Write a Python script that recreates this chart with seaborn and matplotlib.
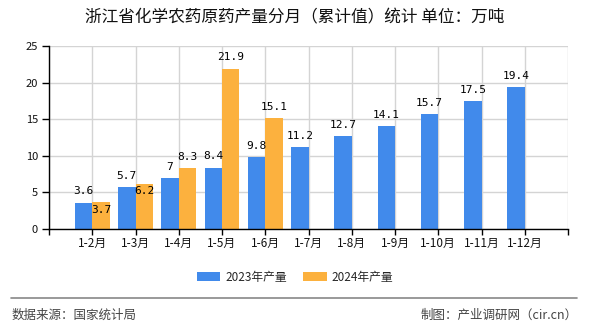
import numpy as np
import pandas as pd
import matplotlib
matplotlib.use("Agg")
import matplotlib.pyplot as plt
from matplotlib.lines import Line2D
from matplotlib.patches import Patch
import seaborn as sns

# ---------------- data ----------------
categories = ["1-2月", "1-3月", "1-4月", "1-5月", "1-6月", "1-7月",
              "1-8月", "1-9月", "1-10月", "1-11月", "1-12月"]
values_2023 = [3.6, 5.7, 7, 8.4, 9.8, 11.2, 12.7, 14.1, 15.7, 17.5, 19.4]
values_2024 = [3.7, 6.2, 8.3, 21.9, 15.1, np.nan, np.nan, np.nan, np.nan, np.nan, np.nan]
series_names = ["2023年产量", "2024年产量"]
y_ticks = [0, 5, 10, 15, 20, 25]
title = "浙江省化学农药原药产量分月（累计值）统计 单位：万吨"
source_text = "数据来源：国家统计局"
credit_text = "制图：产业调研网（cir.cn）"

colors = ["#418AEB", "#FCB13E"]

df = pd.DataFrame({
    "month": categories * 2,
    "value": values_2023 + values_2024,
    "series": [series_names[0]] * len(categories) + [series_names[1]] * len(categories),
})

sns.set_theme(style="white")
plt.rcParams["font.family"] = ["Noto Sans CJK SC", "DejaVu Sans"]

W, H = 590, 330
fig = plt.figure(figsize=(W / 100, H / 100), dpi=100)
ax = fig.add_axes([49 / W, 1 - 229 / H, (568 - 49) / W, (229 - 46) / H])

sns.barplot(data=df, x="month", y="value", hue="series", order=categories,
            hue_order=series_names, palette=colors, saturation=1, width=0.8,
            dodge=True, linewidth=0, legend=False, ax=ax, errorbar=None)

# value labels
series_vals = [values_2023, values_2024]
for si, cont in enumerate(ax.containers):
    vals = [v for v in series_vals[si] if not np.isnan(v)]
    idxs = [i for i, v in enumerate(series_vals[si]) if not np.isnan(v)]
    for bar, v, ci in zip(cont.patches, vals, idxs):
        xc = bar.get_x() + bar.get_width() / 2
        txt = f"{v:g}"
        inside = (si == 1 and abs(v - values_2023[ci]) < 1.0)
        if inside:
            ax.annotate(txt, (xc, v), xytext=(0, -2), textcoords="offset points",
                        ha="center", va="top", fontsize=8,
                        family=["DejaVu Sans Mono"], color="black")
        else:
            ax.annotate(txt, (xc, v), xytext=(0, 4.5), textcoords="offset points",
                        ha="center", va="bottom", fontsize=8,
                        family=["DejaVu Sans Mono"], color="black")

ax.set_xlim(-1, len(categories))
ax.set_ylim(0, 25)
ax.set_xticks(range(-1, len(categories) + 1))
ax.set_xticklabels([""] + categories + [""])
ax.set_yticks(y_ticks)
ax.set_yticklabels([str(t) for t in y_ticks])
ax.set_xlabel("")
ax.set_ylabel("")

ax.grid(True, color="#d4d4d4", linewidth=1)
ax.set_axisbelow(True)
for s in ["top", "right"]:
    ax.spines[s].set_visible(False)
for s in ["left", "bottom"]:
    ax.spines[s].set_color("black")
    ax.spines[s].set_linewidth(1)

ax.tick_params(axis="x", length=4, width=1, color="black", labelsize=8.5, pad=2,
               bottom=True, labelcolor="#111111")
ax.tick_params(axis="y", length=5, width=1, color="black", labelsize=8, pad=3,
               left=True, labelcolor="#111111")

fig.text(0.5, 1 - 18 / H, title, ha="center", va="center", fontsize=12, color="#111111")

handles = [Patch(facecolor=c, edgecolor="none") for c in colors]
fig.legend(handles, series_names, loc="center", bbox_to_anchor=(295 / W, 1 - 277 / H),
           ncol=2, frameon=False, fontsize=8.5, handlelength=2.0, handleheight=0.7,
           columnspacing=1.4, handletextpad=0.4)

fig.add_artist(Line2D([11 / W, 577 / W], [1 - 298 / H] * 2, color="#888888", lw=1.2))
fig.text(12 / W, 1 - 315 / H, source_text, ha="left", va="center", fontsize=9, color="#444444")
fig.text(578 / W, 1 - 315 / H, credit_text, ha="right", va="center", fontsize=9, color="#444444")

fig.savefig("out.png", dpi=100)
